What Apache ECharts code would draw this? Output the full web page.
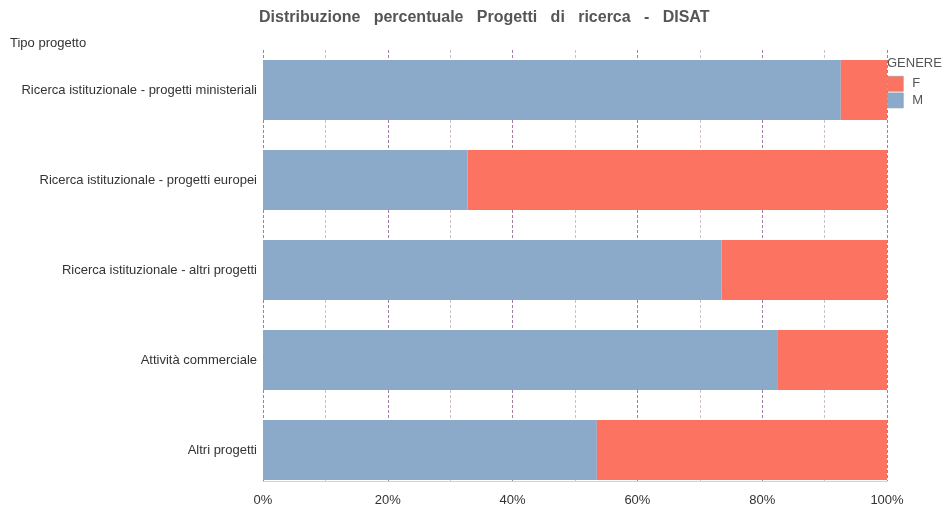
<!DOCTYPE html>
<html>
<head>
<meta charset="utf-8">
<style>
  html, body { margin: 0; padding: 0; background: #fff; }
  #chart { width: 943px; height: 508px; }
</style>
<script src="https://cdn.jsdelivr.net/npm/echarts@6/dist/echarts.min.js"></script>
</head>
<body>
<div id="chart"></div>
<script>
// Project types (top to bottom)
const categories = [
  'Ricerca istituzionale - progetti ministeriali',
  'Ricerca istituzionale - progetti europei',
  'Ricerca istituzionale - altri progetti',
  'Attività commerciale',
  'Altri progetti'
];
// Share of projects by gender (%)
const valuesM = [92.6, 32.8, 73.5, 82.4, 53.5];
const valuesF = [7.4, 67.2, 26.5, 17.6, 46.5];
const xTicks = [0, 20, 40, 60, 80, 100];

const FONT = 'Liberation Sans, Arial, sans-serif';
const colorM = '#8ba9c9';
const colorF = '#fd7361';

const chart = echarts.init(document.getElementById('chart'), null, { renderer: 'canvas' });

chart.setOption({
  animation: false,
  backgroundColor: '#ffffff',
  textStyle: { fontFamily: FONT },
  title: [
    {
      text: 'Distribuzione   percentuale   Progetti   di   ricerca   -   DISAT',
      left: 259, top: 10, padding: 0,
      textStyle: { fontSize: 16, fontWeight: 'bold', color: '#555', fontFamily: FONT }
    },
    {
      text: 'Tipo progetto', left: 10, top: 37, padding: 0,
      textStyle: { fontSize: 13, fontWeight: 'normal', color: '#333', fontFamily: FONT }
    },
    {
      text: 'GENERE', left: 887, top: 57, padding: 0,
      textStyle: { fontSize: 13, fontWeight: 'normal', color: '#555', fontFamily: FONT }
    }
  ],
  legend: {
    data: ['F', 'M'],
    orient: 'vertical',
    left: 887, top: 76, padding: 0,
    icon: 'rect',
    itemWidth: 16, itemHeight: 15, itemGap: 1,
    textStyle: { fontSize: 13, color: '#555', fontFamily: FONT, padding: [0, 0, 0, 4] },
    itemStyle: { borderColor: '#999', borderWidth: 0.6 }
  },
  grid: [
    { left: 263, right: 56, top: 45, height: 450 },
    { left: 263, right: 56, top: 50, height: 431 }
  ],
  xAxis: [
    {
      gridIndex: 0, type: 'value', min: 0, max: 100,
      show: false
    },
    {
      gridIndex: 1, type: 'value', min: 0, max: 100, interval: 20,
      axisLine: { show: true, lineStyle: { color: '#d8cfd8', width: 1 } },
      axisTick: { show: false },
      axisLabel: {
        formatter: v => xTicks.includes(v) ? v + '%' : '',
        color: '#333', fontSize: 13, fontFamily: FONT, margin: 13
      },
      splitLine: { show: true, lineStyle: { color: '#a07ca0', type: [3, 2], width: 1 } },
      minorTick: { show: false, splitNumber: 2 },
      minorSplitLine: { show: true, lineStyle: { color: '#cdbfcd', type: [3, 2], width: 1 } }
    }
  ],
  yAxis: [
    {
      gridIndex: 0, type: 'category', data: categories, inverse: true,
      axisLine: { show: false }, axisTick: { show: false },
      axisLabel: { color: '#333', fontSize: 13, fontFamily: FONT, margin: 6 }
    },
    {
      gridIndex: 1, type: 'category', data: categories, inverse: true,
      show: false
    }
  ],
  series: [
    {
      name: 'M', type: 'bar', stack: 'g', data: valuesM,
      xAxisIndex: 0, yAxisIndex: 0,
      barWidth: 60, itemStyle: { color: colorM }, z: 3
    },
    {
      name: 'F', type: 'bar', stack: 'g', data: valuesF,
      xAxisIndex: 0, yAxisIndex: 0,
      barWidth: 60, itemStyle: { color: colorF }, z: 3
    }
  ]
});
</script>
</body>
</html>
